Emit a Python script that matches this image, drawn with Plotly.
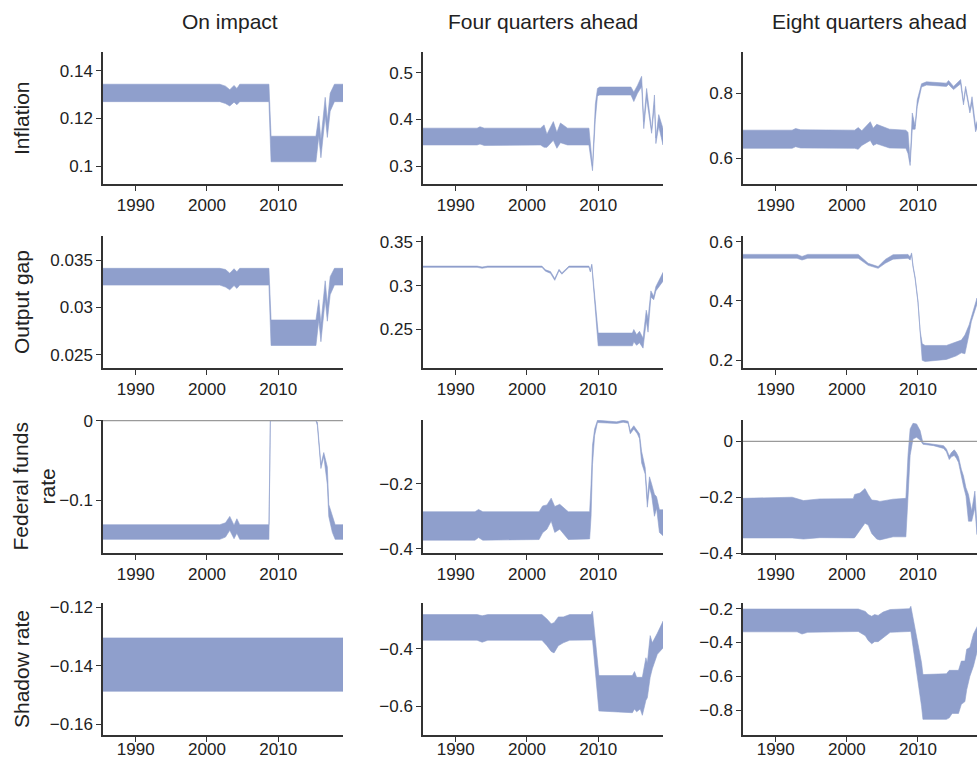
import plotly.graph_objects as go

# ---------------- DATA ----------------
col_titles = ["On impact", "Four quarters ahead", "Eight quarters ahead"]
row_titles = ["Inflation", "Output gap", "Federal funds<br>rate", "Shadow rate"]
x_ticks = [1990, 2000, 2010]

# Row 1: Inflation
infl_0_x = [1985.4, 2001.8, 2002.6, 2003.2, 2003.8, 2004.2, 2004.6, 2008.7, 2009.0, 2015.3, 2015.7, 2016.0, 2016.6, 2016.9, 2017.3, 2017.9, 2019.1]
infl_0_hi = [0.1343, 0.1343, 0.1335, 0.1320, 0.1338, 0.1325, 0.1343, 0.1343, 0.1125, 0.1125, 0.1210, 0.1110, 0.1288, 0.1190, 0.1305, 0.1343, 0.1343]
infl_0_lo = [0.1270, 0.1270, 0.1262, 0.1252, 0.1268, 0.1257, 0.1270, 0.1270, 0.1018, 0.1018, 0.1125, 0.1035, 0.1210, 0.1120, 0.1230, 0.1270, 0.1270]

infl_4_x = [1985.4, 1993.0, 1993.4, 1994.0, 2001.9, 2002.4, 2002.8, 2003.7, 2004.2, 2004.7, 2005.7, 2008.7, 2009.2, 2009.6, 2009.9, 2010.2, 2014.6, 2015.0, 2015.5, 2016.1, 2016.4, 2016.8, 2017.5, 2017.9, 2018.1, 2018.5, 2019.1]
infl_4_hi = [0.381, 0.381, 0.384, 0.381, 0.381, 0.388, 0.368, 0.395, 0.372, 0.392, 0.381, 0.381, 0.300, 0.432, 0.466, 0.469, 0.469, 0.458, 0.472, 0.492, 0.395, 0.466, 0.378, 0.452, 0.360, 0.410, 0.380]
infl_4_lo = [0.345, 0.345, 0.347, 0.344, 0.345, 0.340, 0.340, 0.355, 0.338, 0.350, 0.345, 0.345, 0.290, 0.400, 0.450, 0.452, 0.452, 0.438, 0.455, 0.470, 0.380, 0.445, 0.370, 0.430, 0.348, 0.385, 0.345]

infl_8_x = [1985.4, 1992.3, 1992.8, 1993.5, 2001.1, 2001.6, 2002.1, 2003.3, 2003.7, 2004.2, 2006.0, 2008.3, 2008.6, 2008.9, 2009.2, 2009.6, 2009.9, 2010.5, 2011.2, 2014.0, 2014.3, 2015.0, 2016.0, 2016.4, 2016.7, 2017.3, 2017.6, 2018.1, 2018.4]
infl_8_hi = [0.687, 0.687, 0.692, 0.688, 0.687, 0.695, 0.685, 0.713, 0.693, 0.705, 0.690, 0.687, 0.680, 0.590, 0.740, 0.700, 0.780, 0.830, 0.836, 0.832, 0.840, 0.822, 0.843, 0.775, 0.822, 0.750, 0.790, 0.700, 0.720]
infl_8_lo = [0.631, 0.631, 0.636, 0.632, 0.631, 0.628, 0.640, 0.655, 0.640, 0.645, 0.632, 0.631, 0.615, 0.578, 0.690, 0.690, 0.760, 0.820, 0.826, 0.822, 0.828, 0.812, 0.830, 0.765, 0.812, 0.740, 0.770, 0.682, 0.700]

# Row 2: Output gap
gap_0_x = [1985.4, 2001.8, 2002.6, 2003.2, 2003.8, 2004.2, 2004.6, 2008.7, 2009.0, 2015.3, 2015.7, 2016.0, 2016.6, 2016.9, 2017.3, 2017.9, 2019.1]
gap_0_hi = [0.03412, 0.03412, 0.03400, 0.03360, 0.03408, 0.03375, 0.03412, 0.03412, 0.02866, 0.02866, 0.03080, 0.02827, 0.03280, 0.03030, 0.03324, 0.03412, 0.03412]
gap_0_lo = [0.03235, 0.03235, 0.03214, 0.03185, 0.03230, 0.03200, 0.03235, 0.03235, 0.02596, 0.02596, 0.02866, 0.02636, 0.03082, 0.02853, 0.03133, 0.03235, 0.03235]

gap_4_x = [1985.4, 1993.0, 1993.7, 1994.5, 2002.1, 2002.6, 2003.3, 2003.9, 2004.5, 2004.9, 2005.9, 2008.7, 2008.9, 2009.1, 2010.0, 2014.8, 2015.0, 2015.4, 2015.8, 2016.3, 2016.75, 2017.0, 2017.4, 2017.8, 2018.1, 2019.1]
gap_4_hi = [0.3222, 0.3222, 0.3212, 0.3222, 0.3222, 0.3180, 0.3160, 0.3080, 0.3185, 0.3145, 0.3222, 0.3222, 0.3170, 0.3245, 0.2460, 0.2460, 0.2500, 0.2440, 0.2480, 0.2400, 0.2720, 0.2620, 0.2940, 0.2880, 0.2990, 0.3150]
gap_4_lo = [0.3208, 0.3208, 0.3198, 0.3208, 0.3208, 0.3165, 0.3140, 0.3060, 0.3170, 0.3130, 0.3208, 0.3208, 0.3155, 0.3230, 0.2315, 0.2315, 0.2360, 0.2320, 0.2350, 0.2288, 0.2600, 0.2470, 0.2870, 0.2840, 0.2940, 0.3050]

gap_8_x = [1985.4, 1993.0, 1993.7, 1994.5, 2001.6, 2003.0, 2004.4, 2005.4, 2006.5, 2008.6, 2008.9, 2009.1, 2009.3, 2009.6, 2010.0, 2010.3, 2010.6, 2011.0, 2014.0, 2015.4, 2016.1, 2016.6, 2017.2, 2017.5, 2018.3]
gap_8_hi = [0.557, 0.557, 0.550, 0.557, 0.557, 0.527, 0.516, 0.540, 0.556, 0.557, 0.548, 0.562, 0.520, 0.480, 0.400, 0.300, 0.256, 0.250, 0.250, 0.262, 0.268, 0.285, 0.320, 0.345, 0.410]
gap_8_lo = [0.544, 0.544, 0.538, 0.544, 0.544, 0.520, 0.510, 0.527, 0.541, 0.544, 0.538, 0.556, 0.515, 0.475, 0.395, 0.290, 0.200, 0.196, 0.203, 0.215, 0.225, 0.222, 0.290, 0.330, 0.390]

# Row 3: Federal funds rate
ffr_0_x = [1985.4, 2001.8, 2002.6, 2003.2, 2003.8, 2004.2, 2004.6, 2008.7, 2008.9, 2015.3, 2015.5, 2016.0, 2016.4, 2016.9, 2017.1, 2017.6, 2018.0, 2019.1]
ffr_0_hi = [-0.1304, -0.1304, -0.1280, -0.1200, -0.1310, -0.1230, -0.1304, -0.1304, 0.0, 0.0, -0.002, -0.055, -0.040, -0.058, -0.105, -0.120, -0.1304, -0.1304]
ffr_0_lo = [-0.1488, -0.1488, -0.1460, -0.1375, -0.1480, -0.1410, -0.1488, -0.1488, 0.0, 0.0, -0.006, -0.060, -0.045, -0.080, -0.120, -0.140, -0.1488, -0.1488]

ffr_4_x = [1985.4, 1992.7, 1993.2, 1993.8, 2001.7, 2002.2, 2002.8, 2003.4, 2003.9, 2004.6, 2005.8, 2008.8, 2009.0, 2009.2, 2009.5, 2009.9, 2012.6, 2013.5, 2014.2, 2014.5, 2015.0, 2015.5, 2015.8, 2016.1, 2016.6, 2016.9, 2017.2, 2017.5, 2017.9, 2018.2, 2018.6, 2019.1]
ffr_4_hi = [-0.286, -0.286, -0.279, -0.286, -0.286, -0.268, -0.265, -0.244, -0.270, -0.263, -0.286, -0.286, -0.200, -0.080, -0.030, -0.003, -0.008, -0.003, -0.006, -0.035, -0.020, -0.035, -0.045, -0.100, -0.150, -0.245, -0.178, -0.200, -0.232, -0.240, -0.280, -0.280]
ffr_4_lo = [-0.374, -0.374, -0.366, -0.374, -0.372, -0.351, -0.340, -0.315, -0.350, -0.340, -0.372, -0.370, -0.300, -0.140, -0.050, -0.010, -0.013, -0.009, -0.012, -0.045, -0.030, -0.045, -0.060, -0.135, -0.170, -0.272, -0.210, -0.235, -0.300, -0.275, -0.350, -0.360]

ffr_8_x = [1985.4, 1992.3, 1993.9, 1996.2, 2000.9, 2001.1, 2001.85, 2002.55, 2003.0, 2003.5, 2004.2, 2004.65, 2006.5, 2008.3, 2008.6, 2008.9, 2009.3, 2009.8, 2010.3, 2010.7, 2012.2, 2013.6, 2014.0, 2014.4, 2014.7, 2015.1, 2015.4, 2015.7, 2016.1, 2016.4, 2016.75, 2017.1, 2017.55, 2018.0, 2018.3]
ffr_8_hi = [-0.204, -0.200, -0.212, -0.206, -0.205, -0.190, -0.185, -0.169, -0.190, -0.210, -0.212, -0.215, -0.207, -0.204, -0.050, 0.045, 0.065, 0.063, 0.039, -0.005, -0.010, -0.015, -0.027, -0.052, -0.040, -0.030, -0.040, -0.055, -0.100, -0.124, -0.166, -0.190, -0.250, -0.178, -0.300]
ffr_8_lo = [-0.346, -0.346, -0.350, -0.345, -0.346, -0.345, -0.318, -0.293, -0.300, -0.330, -0.350, -0.353, -0.342, -0.342, -0.200, -0.050, 0.009, 0.015, 0.005, -0.010, -0.015, -0.025, -0.037, -0.065, -0.055, -0.050, -0.060, -0.075, -0.118, -0.160, -0.196, -0.286, -0.286, -0.238, -0.334]

# Row 4: Shadow rate
sr_0_x = [1985.4, 2019.1]
sr_0_hi = [-0.1305, -0.1305]
sr_0_lo = [-0.1487, -0.1487]

sr_4_x = [1985.4, 1993.0, 1993.7, 1994.5, 2002.1, 2002.8, 2003.4, 2003.8, 2004.4, 2005.1, 2006.0, 2009.0, 2009.2, 2010.1, 2014.8, 2015.1, 2015.4, 2015.9, 2016.2, 2016.7, 2016.9, 2017.3, 2017.6, 2018.3, 2019.1]
sr_4_hi = [-0.282, -0.282, -0.286, -0.282, -0.282, -0.297, -0.314, -0.310, -0.290, -0.290, -0.282, -0.282, -0.270, -0.494, -0.494, -0.480, -0.500, -0.500, -0.500, -0.432, -0.450, -0.355, -0.380, -0.347, -0.305]
sr_4_lo = [-0.371, -0.371, -0.378, -0.371, -0.371, -0.390, -0.410, -0.415, -0.390, -0.380, -0.371, -0.370, -0.370, -0.617, -0.623, -0.610, -0.620, -0.610, -0.632, -0.580, -0.571, -0.500, -0.470, -0.420, -0.398]

sr_8_x = [1985.4, 1993.0, 1993.7, 1994.5, 2001.6, 2002.6, 2003.0, 2003.5, 2003.9, 2004.4, 2005.1, 2006.1, 2008.8, 2009.0, 2010.5, 2010.7, 2014.0, 2014.4, 2014.8, 2015.7, 2016.1, 2016.6, 2016.85, 2017.3, 2017.8, 2018.4]
sr_8_hi = [-0.202, -0.202, -0.205, -0.202, -0.202, -0.216, -0.235, -0.245, -0.235, -0.240, -0.220, -0.205, -0.200, -0.186, -0.520, -0.590, -0.585, -0.565, -0.565, -0.565, -0.510, -0.510, -0.440, -0.430, -0.350, -0.300]
sr_8_lo = [-0.337, -0.337, -0.350, -0.340, -0.335, -0.360, -0.388, -0.408, -0.395, -0.395, -0.370, -0.340, -0.335, -0.335, -0.777, -0.855, -0.855, -0.846, -0.820, -0.820, -0.766, -0.750, -0.680, -0.600, -0.540, -0.440]

# ---------------- FIGURE ----------------
panels = [
    (0, 0, infl_0_x, infl_0_lo, infl_0_hi, [0.0925, 0.1478], [0.1, 0.12, 0.14], ["0.1", "0.12", "0.14"]),
    (0, 1, infl_4_x, infl_4_lo, infl_4_hi, [0.2615, 0.544], [0.3, 0.4, 0.5], ["0.3", "0.4", "0.5"]),
    (0, 2, infl_8_x, infl_8_lo, infl_8_hi, [0.521, 0.928], [0.6, 0.8], ["0.6", "0.8"]),
    (1, 0, gap_0_x, gap_0_lo, gap_0_hi, [0.02358, 0.03754], [0.025, 0.03, 0.035], ["0.025", "0.03", "0.035"]),
    (1, 1, gap_4_x, gap_4_lo, gap_4_hi, [0.2062, 0.3565], [0.25, 0.3, 0.35], ["0.25", "0.3", "0.35"]),
    (1, 2, gap_8_x, gap_8_lo, gap_8_hi, [0.174, 0.619], [0.2, 0.4, 0.6], ["0.2", "0.4", "0.6"]),
    (2, 0, ffr_0_x, ffr_0_lo, ffr_0_hi, [-0.1659, 0.0008], [-0.1, 0], ["\u22120.1", "0"]),
    (2, 1, ffr_4_x, ffr_4_lo, ffr_4_hi, [-0.4137, -0.0022], [-0.4, -0.2], ["\u22120.4", "\u22120.2"]),
    (2, 2, ffr_8_x, ffr_8_lo, ffr_8_hi, [-0.40, 0.077], [-0.4, -0.2, 0], ["\u22120.4", "\u22120.2", "0"]),
    (3, 0, sr_0_x, sr_0_lo, sr_0_hi, [-0.1636, -0.1186], [-0.16, -0.14, -0.12], ["\u22120.16", "\u22120.14", "\u22120.12"]),
    (3, 1, sr_4_x, sr_4_lo, sr_4_hi, [-0.7005, -0.2416], [-0.6, -0.4], ["\u22120.6", "\u22120.4"]),
    (3, 2, sr_8_x, sr_8_lo, sr_8_hi, [-0.9475, -0.1664], [-0.8, -0.6, -0.4, -0.2], ["\u22120.8", "\u22120.6", "\u22120.4", "\u22120.2"]),
]

W, H = 977, 760
col_px = [(103, 343), (423, 663), (743, 977)]
row_px = [(52, 184), (236, 368), (420, 553), (603, 735)]
x_ranges = [[1985.4, 2019.1], [1985.4, 2019.1], [1985.4, 2018.3]]

band_color = "rgb(143,159,204)"
axis_color = "#333333"
font_family = "Liberation Sans, Arial, Helvetica, sans-serif"

fig = go.Figure()
layout = dict(
    template="none",
    width=W, height=H, autosize=False,
    margin=dict(l=0, r=0, t=0, b=0, pad=0),
    paper_bgcolor="white", plot_bgcolor="white",
    showlegend=False,
    font=dict(family=font_family, size=17, color="#222222"),
)
shapes = []

for i, (r, c, xs, lo, hi, yr, tv, tt) in enumerate(panels):
    n = i + 1
    xa = "x" if n == 1 else f"x{n}"
    ya = "y" if n == 1 else f"y{n}"
    fig.add_trace(go.Scatter(
        x=list(xs) + list(xs)[::-1],
        y=list(hi) + list(lo)[::-1],
        fill="toself", fillcolor=band_color,
        line=dict(color=band_color, width=0.6),
        mode="lines", xaxis=xa, yaxis=ya, hoverinfo="skip",
    ))
    x0, x1 = col_px[c]
    y0, y1 = row_px[r]
    xkey = "xaxis" if n == 1 else f"xaxis{n}"
    ykey = "yaxis" if n == 1 else f"yaxis{n}"
    layout[xkey] = dict(
        domain=[x0 / W, x1 / W], anchor=ya, range=x_ranges[c], automargin=False,
        tickmode="array", tickvals=x_ticks, ticktext=[str(t) for t in x_ticks],
        showgrid=False, zeroline=False, showline=True, linecolor=axis_color, linewidth=1.5,
        ticks="outside", ticklen=5, tickwidth=1.3, tickcolor=axis_color,
        ticklabelstandoff=(-7 if r == 3 else 0),
        tickfont=dict(size=17, color="#222222"),
    )
    layout[ykey] = dict(
        domain=[1 - y1 / H, 1 - y0 / H], anchor=xa, range=yr, automargin=False,
        tickmode="array", tickvals=tv, ticktext=tt,
        showgrid=False, zeroline=False,
        showline=True, linecolor=axis_color, linewidth=1.5,
        ticks="outside", ticklen=5, tickwidth=1.3, tickcolor=axis_color,
        tickfont=dict(size=17, color="#222222"),
    )
    if r == 2 and yr[0] < 0 < yr[1] + 1e-9:
        shapes.append(dict(type="line", xref=f"{xa} domain", yref=ya, x0=0, x1=1, y0=0, y1=0,
                           line=dict(color="#9a9a9a", width=1.2), layer="above"))

annotations = []
title_centers = [230, 543, 869]
for t, cx in zip(col_titles, title_centers):
    annotations.append(dict(text=t, x=cx / W, y=1 - 22 / H, xref="paper", yref="paper",
                            xanchor="center", yanchor="middle", showarrow=False,
                            font=dict(size=21, color="#222222", family=font_family)))
row_label_x = [21, 21, 33, 21]
for t, (y0, y1), lx in zip(row_titles, row_px, row_label_x):
    annotations.append(dict(text=t, x=lx / W, y=1 - ((y0 + y1) / 2) / H, xref="paper", yref="paper",
                            xanchor="center", yanchor="middle", showarrow=False, textangle=-90,
                            font=dict(size=21, color="#222222", family=font_family)))
layout["annotations"] = annotations
layout["shapes"] = shapes

fig.update_layout(**layout)
fig.write_html("out.html", config={"displayModeBar": False},
               post_script="document.body.style.margin='0';document.body.style.padding='0';"
                           "document.documentElement.style.overflow='hidden';")
